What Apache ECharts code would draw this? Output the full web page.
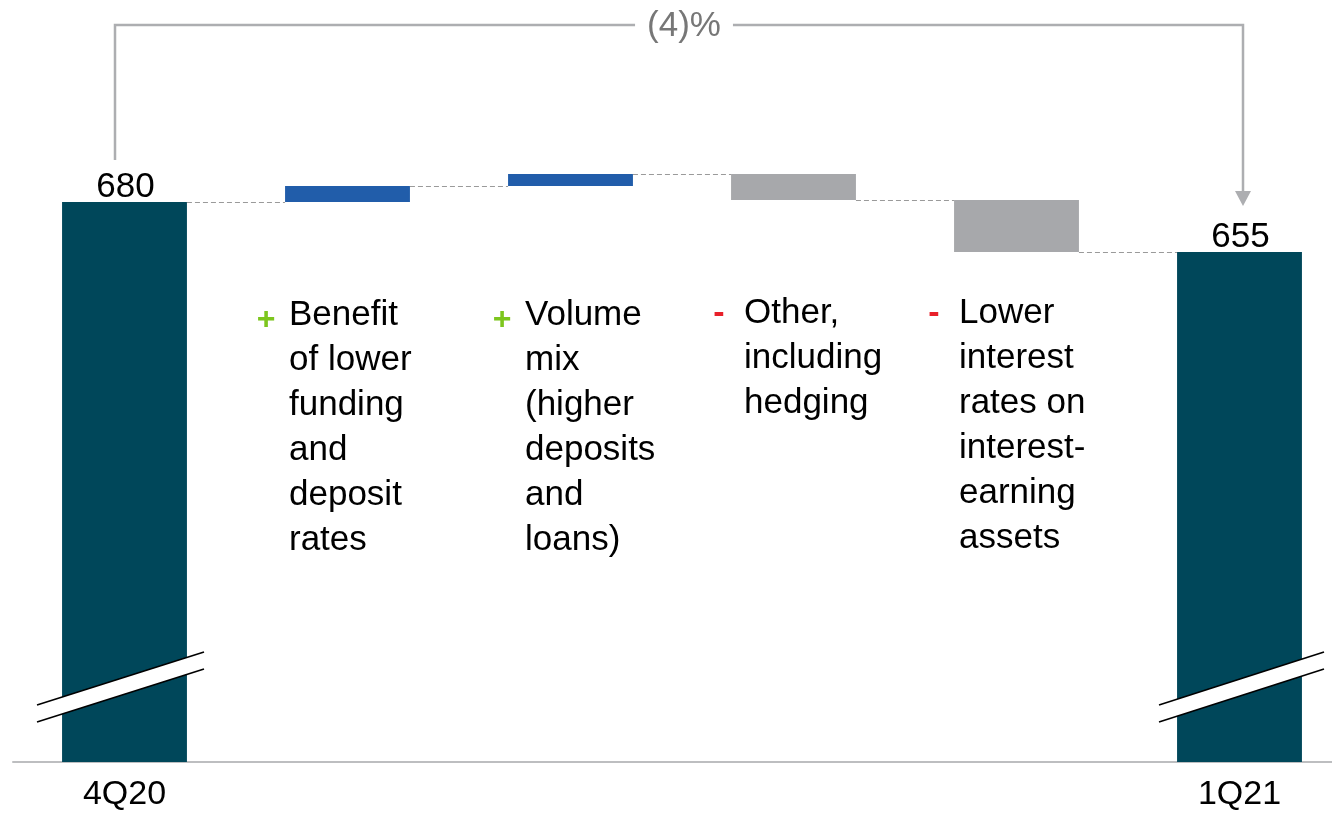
<!DOCTYPE html>
<html>
<head>
<meta charset="utf-8">
<script src="https://cdn.jsdelivr.net/npm/echarts@6/dist/echarts.min.js"></script>
<style>
  html, body { margin: 0; padding: 0; background: #fff; }
  #chart { width: 1332px; height: 816px; }
</style>
</head>
<body>
<div id="chart"></div>
<script>
// data
var categories = ["4Q20", "Benefit", "Volume", "Other", "Lower", "1Q21"];
var startValue = 680;
var endValue = 655;
var deltas = [8, 6, -13, -26]; // steps between the two totals
var changePct = "(4)%";
var notes = [
  { sign: "+", lines: ["Benefit", "of lower", "funding", "and", "deposit", "rates"] },
  { sign: "+", lines: ["Volume", "mix", "(higher", "deposits", "and", "loans)"] },
  { sign: "-", lines: ["Other,", "including", "hedging"] },
  { sign: "-", lines: ["Lower", "interest", "rates on", "interest-", "earning", "assets"] }
];

var yMin = 400, yMax = 700;
var FONT = "Liberation Sans, Arial, sans-serif";
var colors = { total: "#00475A", up: "#215DAA", down: "#A7A8AB" };

// build waterfall rows: [index, low, high, kind, levelAfter]
var rows = [];
var run = startValue;
rows.push([0, yMin, startValue, "total", startValue]);
for (var i = 0; i < deltas.length; i++) {
  var prev = run;
  run += deltas[i];
  rows.push([i + 1, Math.min(prev, run), Math.max(prev, run), deltas[i] >= 0 ? "up" : "down", run]);
}
rows.push([categories.length - 1, yMin, endValue, "total", endValue]);

var myChart = echarts.init(document.getElementById("chart"));

var option = {
  animation: false,
  grid: { left: 13, width: 1338, top: 162, height: 600, outerBoundsMode: "none", containLabel: false },
  xAxis: {
    type: "category",
    data: categories,
    axisTick: { show: false },
    axisLine: { lineStyle: { color: "#BDBEC0", width: 2 } },
    axisLabel: {
      interval: 0,
      margin: 16,
      fontSize: 34,
      fontFamily: FONT,
      color: "#000",
      formatter: function (v, idx) {
        return (idx === 0 || idx === categories.length - 1) ? v : "";
      }
    }
  },
  yAxis: {
    type: "value",
    min: yMin,
    max: yMax,
    show: false,
    splitLine: { show: false }
  },
  series: [{
    type: "custom",
    clip: false,
    data: rows,
    encode: { x: 0, y: [1, 2] },
    renderItem: function (params, api) {
      var idx = api.value(0);
      var low = api.value(1), high = api.value(2), level = api.value(4);
      var kind = rows[params.dataIndex][3];
      var band = api.size([1, 0])[0];
      var w = band * 0.56;
      var pTop = api.coord([idx, high]);
      var pBot = api.coord([idx, low]);
      var children = [{
        type: "rect",
        shape: { x: pTop[0] - w / 2, y: pTop[1], width: w, height: pBot[1] - pTop[1] },
        style: { fill: colors[kind] }
      }];
      if (params.dataIndex < rows.length - 1) {
        var ly = Math.round(api.coord([idx, level])[1]) + 0.5;
        children.push({
          type: "line",
          shape: { x1: pTop[0] + w / 2, y1: ly, x2: pTop[0] + band - w / 2, y2: ly },
          style: { stroke: "#9A9A9A", lineWidth: 1.2, lineDash: [5, 3] }
        });
      }
      if (kind === "total") {
        children.push({
          type: "text",
          style: {
            text: String(high), x: pTop[0] + 1, y: pTop[1] + 2.5,
            align: "center", verticalAlign: "bottom",
            fontSize: 35, fontFamily: FONT, fill: "#000"
          }
        });
      }
      return { type: "group", children: children };
    }
  }]
};
myChart.setOption(option);

// decorations placed from the chart's own scales
function px(cat, val) { return myChart.convertToPixel({ gridIndex: 0 }, [cat, val]); }
var last = categories.length - 1;
var pStart = px(0, startValue), pEnd = px(last, endValue);
var baseY = px(0, yMin)[1];
var graphics = [];

// comparison arrow
var ax0 = pStart[0] - 9.5, ax1 = pEnd[0] + 3.5, topY = 25;
graphics.push({
  type: "polyline", z: 100,
  shape: { points: [[ax0, pStart[1] - 42], [ax0, topY], [ax1, topY], [ax1, pEnd[1] - 58]] },
  style: { stroke: "#ADAEB1", lineWidth: 2.5, fill: null }
});
graphics.push({
  type: "polygon", z: 100,
  shape: { points: [[ax1 - 8, pEnd[1] - 61], [ax1 + 8, pEnd[1] - 61], [ax1, pEnd[1] - 46]] },
  style: { fill: "#ADAEB1" }
});
graphics.push({
  type: "text", z: 101,
  x: 684, y: topY + 1,
  style: {
    text: changePct, align: "center", verticalAlign: "middle",
    fontSize: 35, fontFamily: FONT, fill: "#777",
    backgroundColor: "#fff", padding: [0, 12]
  }
});

// axis break marks on the total bars
[[0, -87.5, 79.5], [last, -80.5, 84.5]].forEach(function (b) {
  var cx = px(b[0], yMin)[0];
  var xa = cx + b[1], xb = cx + b[2];
  var y1a = baseY - 57, y1b = baseY - 110, gap = 17;
  graphics.push({
    type: "polygon", z: 100,
    shape: { points: [[xa, y1a], [xb, y1b], [xb, y1b + gap], [xa, y1a + gap]] },
    style: { fill: "#fff" }
  });
  graphics.push({ type: "line", z: 101, shape: { x1: xa, y1: y1a, x2: xb, y2: y1b }, style: { stroke: "#000", lineWidth: 1.6 } });
  graphics.push({ type: "line", z: 101, shape: { x1: xa, y1: y1a + gap, x2: xb, y2: y1b + gap }, style: { stroke: "#000", lineWidth: 1.6 } });
});

// step annotations
var noteLayout = [
  { dx: -58.5, top: 293, signY: 320 },
  { dx: -45.5, top: 293, signY: 320 },
  { dx: -49.5, top: 291, signY: 313 },
  { dx: -57.5, top: 291, signY: 313 }
];
notes.forEach(function (n, k) {
  var cx = px(k + 1, yMin)[0];
  var L = noteLayout[k];
  var tx = cx + L.dx;
  graphics.push({
    type: "text", z: 100, x: tx, y: L.top,
    style: {
      text: n.lines.join("\n"), fontSize: 35, lineHeight: 45,
      fontFamily: FONT, fill: "#000", align: "left", verticalAlign: "top"
    }
  });
  if (n.sign === "+") {
    graphics.push({
      type: "text", z: 100, x: tx - 23, y: L.signY,
      style: {
        text: "+", fontSize: 32, fontWeight: "bold",
        fontFamily: FONT, fill: "#7DC61E",
        align: "center", verticalAlign: "middle"
      }
    });
  } else {
    graphics.push({
      type: "text", z: 100, x: tx - 25, y: L.signY + 1,
      style: {
        text: "-", fontSize: 34, fontWeight: "bold",
        fontFamily: FONT, fill: "#E8202A",
        align: "center", verticalAlign: "middle"
      }
    });
  }
});

myChart.setOption({ graphic: graphics });
</script>
</body>
</html>
